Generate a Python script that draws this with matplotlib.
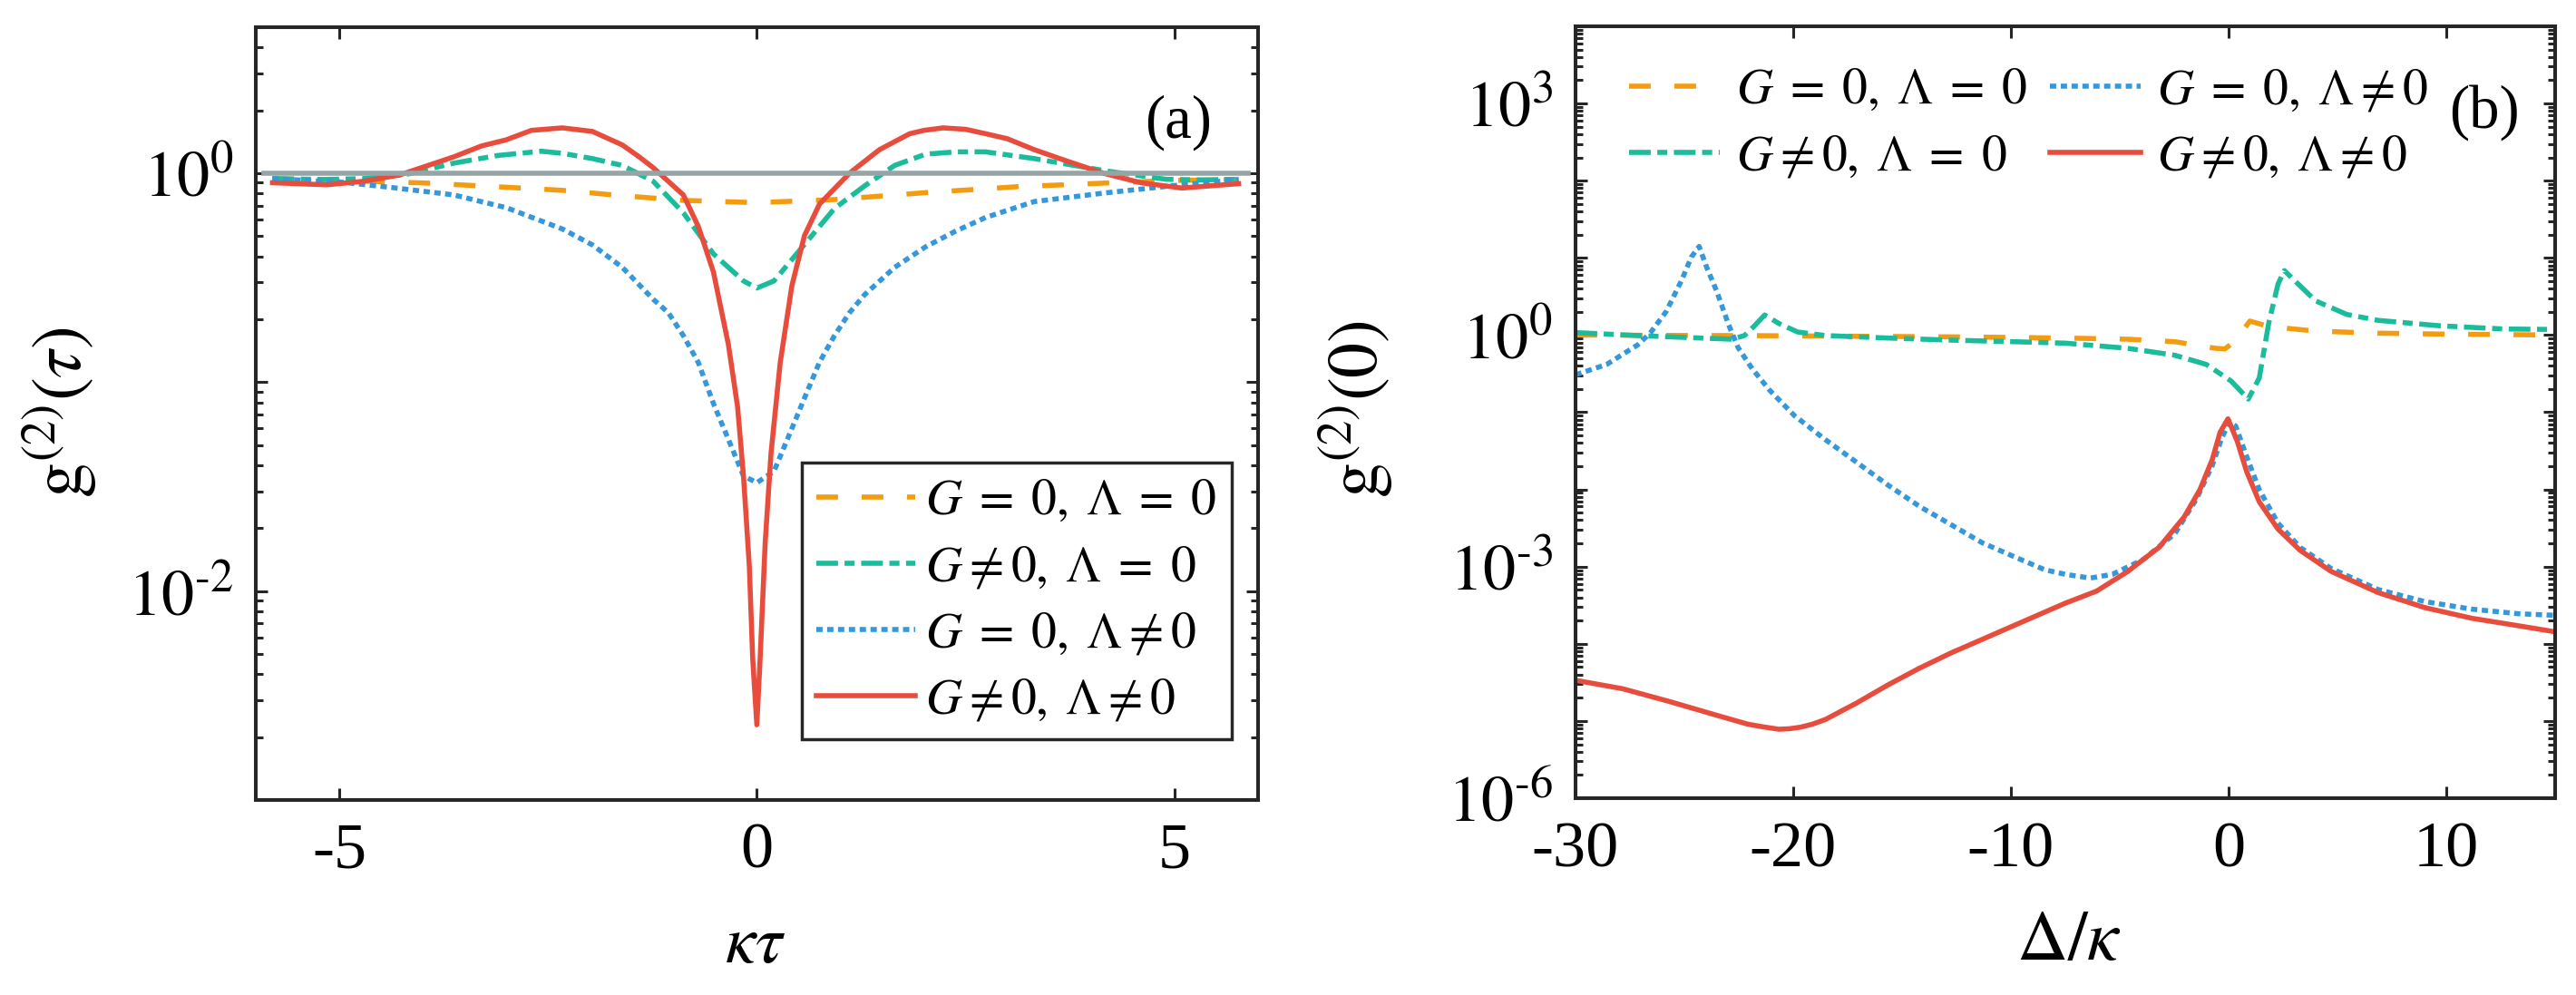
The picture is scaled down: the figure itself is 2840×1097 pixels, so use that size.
import matplotlib.pyplot as plt
import numpy as np
from matplotlib.ticker import FixedLocator, FixedFormatter, LogLocator, NullFormatter

plt.rcParams['font.family'] = ['Liberation Serif', 'DejaVu Serif']
plt.rcParams['mathtext.fontset'] = 'stix'
plt.rcParams['axes.unicode_minus'] = False

# ---- panel (a): g2(tau) vs kappa*tau ----
tau_orange = [-5.8, -5.0, -3.99, -3.1, -2.33, -1.61, -0.88, 0.0, 0.93, 2.02, 3.1, 4.2, 5.0, 5.77]
g2a_orange = [0.942, 0.923, 0.898, 0.861, 0.828, 0.780, 0.741, 0.723, 0.748, 0.807, 0.861, 0.898, 0.923, 0.935]

tau_teal = [-5.8, -5.2, -4.72, -4.18, -3.63, -3.1, -2.58, -2.33, -1.97, -1.61, -1.24, -0.88, -0.52,
            -0.16, 0.0, 0.205, 0.567, 0.93, 1.29, 1.65, 2.02, 2.38, 2.74, 3.32, 3.9, 4.2, 4.9, 5.3, 5.77]
g2a_teal = [0.942, 0.933, 0.942, 0.991, 1.117, 1.216, 1.274, 1.245, 1.175, 1.089, 0.914, 0.646, 0.411,
            0.305, 0.282, 0.305, 0.454, 0.678, 0.869, 1.089, 1.233, 1.265, 1.265, 1.175, 1.072, 1.023,
            0.935, 0.929, 0.935]

tau_blue = [-5.8, -4.97, -4.36, -3.63, -3.0, -2.33, -1.97, -1.61, -1.24, -1.06, -0.88, -0.70, -0.52,
            -0.34, -0.16, 0.0, 0.205, 0.386, 0.567, 0.748, 0.93, 1.11, 1.29, 1.65, 2.02, 2.38, 2.74,
            3.32, 4.15, 5.07, 5.77]
g2a_blue = [0.942, 0.906, 0.853, 0.787, 0.684, 0.541, 0.454, 0.354, 0.249, 0.215, 0.167, 0.124, 0.0791,
            0.0531, 0.0356, 0.0330, 0.0374, 0.0557, 0.0832, 0.124, 0.167, 0.215, 0.262, 0.354, 0.444,
            0.528, 0.614, 0.731, 0.803, 0.879, 0.931]

tau_red = [-5.8, -5.15, -4.72, -4.28, -3.63, -3.3, -3.0, -2.7, -2.33, -1.97, -1.61, -1.4, -1.24, -0.88,
           -0.70, -0.52, -0.34, -0.23, -0.16, -0.09, -0.05, 0.0, 0.04, 0.10, 0.17, 0.28, 0.42, 0.57,
           0.75, 1.11, 1.3, 1.47, 1.83, 2.0, 2.23, 2.5, 2.74, 3.0, 3.32, 3.7, 4.15, 4.6, 5.09, 5.77]
g2a_red = [0.90, 0.88, 0.914, 0.98, 1.197, 1.349, 1.445, 1.603, 1.648, 1.585, 1.365, 1.19, 1.062, 0.787,
           0.555, 0.337, 0.151, 0.0759, 0.0356, 0.0132, 0.00479, 0.00229, 0.00479, 0.0170, 0.0457,
           0.124, 0.290, 0.502, 0.711, 1.0, 1.148, 1.297, 1.545, 1.603, 1.648, 1.622, 1.545, 1.462,
           1.297, 1.148, 1.0, 0.90, 0.849, 0.891]

# ---- panel (b): g2(0) vs Delta/kappa ----
det_orange = [-30, -20, -12, -7.5, -4.63, -2.47, -0.6, -0.17, 0.26, 0.98, 1.84, 4.0, 6.87, 9.74, 15]
g2b_orange = [1.0, 0.977, 0.944, 0.914, 0.883, 0.820, 0.673, 0.661, 0.820, 1.517, 1.288, 1.125,
              1.057, 1.030, 1.0]

det_teal = [-30, -27.13, -24.25, -22.82, -22.24, -21.81, -21.31, -20.66, -19.8, -18.51, -15.63, -12.76,
            -9.89, -7.5, -4.63, -2.47, -1.03, 0.115, 0.905, 1.41, 1.84, 2.27, 2.56, 2.99, 4.0, 5.43,
            6.87, 9.74, 12.62, 15]
g2b_teal = [1.076, 0.984, 0.914, 0.883, 0.984, 1.288, 1.820, 1.413, 1.096, 0.984, 0.914, 0.859,
            0.820, 0.785, 0.673, 0.547, 0.417, 0.254, 0.148, 0.278, 1.409, 4.56, 6.84, 5.22, 2.77,
            1.849, 1.549, 1.315, 1.199, 1.180]

det_blue = [-30, -28.56, -27.13, -26.55, -25.83, -25.11, -24.68, -24.32, -23.97, -23.53, -22.96, -22.53,
            -21.88, -21.09, -19.94, -18.51, -17.07, -15.63, -14.2, -12.76, -11.32, -9.89, -8.45, -7.5,
            -6.35, -5.34, -3.91, -2.47, -1.47, -0.75, -0.32, 0.04, 0.33, 0.83, 1.41, 2.27, 3.28, 4.71,
            6.87, 9.02, 11.18, 13.33, 15]
g2b_blue = [0.305, 0.417, 0.750, 1.076, 2.023, 5.22, 10.23, 14.06, 7.48, 3.80, 1.349, 0.687,
            0.365, 0.194, 0.0902, 0.0439, 0.0223, 0.0113, 0.00603, 0.00351, 0.00204, 0.00136, 0.000912,
            0.000794, 0.000711, 0.000794, 0.00124, 0.00267, 0.00755, 0.0204, 0.0457, 0.0753, 0.0661,
            0.0267, 0.00989, 0.00366, 0.00178, 0.000946, 0.000505, 0.000352, 0.000281, 0.000245, 0.000234]

det_red = [-30, -27.84, -25.69, -23.53, -22.1, -21.4, -20.66, -20.16, -19.66, -19.1, -18.51, -17.07,
           -15.63, -14.2, -12.76, -11.32, -9.89, -8.45, -7.5, -6.06, -4.63, -3.19, -2.04, -1.32, -0.75,
           -0.39, -0.03, 0.40, 0.83, 1.41, 2.27, 3.28, 4.71, 6.87, 9.02, 11.18, 13.33, 15]
g2b_red = [3.37e-5, 2.62e-5, 1.79e-5, 1.19e-5, 9.12e-6, 8.41e-6, 7.82e-6, 7.94e-6, 8.32e-6, 9.12e-6,
           1.05e-5, 1.72e-5, 2.95e-5, 4.83e-5, 7.59e-5, 1.14e-4, 1.71e-4, 2.57e-4, 3.36e-4, 4.82e-4,
           8.67e-4, 1.78e-3, 4.40e-3, 9.89e-3, 0.0244, 0.0550, 0.0822, 0.0419, 0.0170, 0.00690,
           0.00306, 0.00163, 0.000867, 0.000461, 0.000294, 0.000214, 0.000171, 0.000143]

labels = [r'$G\;=\;0,\;\Lambda\;=\;0$', r'$G{\neq}0,\;\Lambda\;=\;0$',
          r'$G\;=\;0,\;\Lambda{\neq}0$', r'$G{\neq}0,\;\Lambda{\neq}0$']
colors = ['#F39C12', '#1ABC9C', '#3498DB', '#E74C3C']
styles = [(0, (4.3, 4.7)), (0, (4.3, 1.3, 2.0, 1.3)), (0, (1.25, 0.9)), '-']
gray = '#95A5A6'
dark = '#262626'
lw = 4.0

fig = plt.figure(figsize=(28.4, 10.97), dpi=100)
ax1 = fig.add_axes([0.0993, 0.196, 0.389, 0.7767])
ax2 = fig.add_axes([0.6116, 0.1978, 0.3803, 0.7758])

curves_a = [(tau_orange, g2a_orange), (tau_teal, g2a_teal), (tau_blue, g2a_blue), (tau_red, g2a_red)]
for (x, y), c, ls, lab in zip(curves_a, colors, styles, labels):
    ax1.plot(x, y, color=c, ls=ls, lw=lw, label=lab)
ax1.axhline(1.0, xmin=0.008, xmax=0.99, color=gray, lw=lw)

curves_b = [(det_orange, g2b_orange), (det_teal, g2b_teal), (det_blue, g2b_blue), (det_red, g2b_red)]
for (x, y), c, ls, lab in zip(curves_b, colors, styles, labels):
    ax2.plot(x, y, color=c, ls=ls, lw=lw, label=lab)

for ax in (ax1, ax2):
    ax.set_yscale('log')
    for s in ax.spines.values():
        s.set_linewidth(2.9)
        s.set_color(dark)
    ax.tick_params(which='both', direction='in', top=True, right=True, width=2.2, color=dark,
                   labelsize=52, pad=18)
    ax.tick_params(which='major', length=9.5)
    ax.tick_params(which='minor', length=5.5)
    ax.yaxis.set_minor_locator(LogLocator(base=10, subs=np.arange(2, 10), numticks=50))
    ax.yaxis.set_minor_formatter(NullFormatter())

# panel (a) axes
ax1.set_xlim(-6, 6)
ax1.set_ylim(1e-3, 5)
ax1.set_xticks([-5, 0, 5])
ax1.yaxis.set_major_locator(FixedLocator([1e-3, 1e-2, 1e-1, 1e0]))
ax1.yaxis.set_major_formatter(FixedFormatter(['', r'$10^{\text{-}2}$', '', r'$10^{0}$']))
ax1.set_xlabel(r'$\kappa\tau$', fontsize=54)
ax1.set_ylabel(r'$\mathrm{g}^{(2)}(\tau)$', fontsize=56)
ax1.xaxis.set_label_coords(0.498, -0.15)
ax1.yaxis.set_label_coords(-0.157, 0.502)
ax1.text(0.954, 0.877, '(a)', transform=ax1.transAxes, fontsize=48, ha='right', va='center')
leg1 = ax1.legend(loc='lower right', bbox_to_anchor=(0.974, 0.0786), borderaxespad=0, fontsize=40,
                  handlelength=1.96, handletextpad=0.2, labelspacing=0.38, borderpad=0.3,
                  fancybox=False, edgecolor=dark, framealpha=1)
leg1.get_frame().set_linewidth(2.5)

# panel (b) axes
ax2.set_xlim(-30, 15)
ax2.set_ylim(1e-6, 1e4)
ax2.set_xticks([-30, -20, -10, 0, 10])
decades = [10.0 ** k for k in range(-6, 5)]
dec_labels = ['' for _ in decades]
dec_labels[0] = r'$10^{\text{-}6}$'
dec_labels[3] = r'$10^{\text{-}3}$'
dec_labels[6] = r'$10^{0}$'
dec_labels[9] = r'$10^{3}$'
ax2.yaxis.set_major_locator(FixedLocator(decades))
ax2.yaxis.set_major_formatter(FixedFormatter(dec_labels))
ax2.set_xlabel(r'$\Delta/\kappa$', fontsize=56)
ax2.set_ylabel(r'$\mathrm{g}^{(2)}(0)$', fontsize=56)
ax2.xaxis.set_label_coords(0.504, -0.145)
ax2.yaxis.set_label_coords(-0.184, 0.504)
ax2.text(0.964, 0.888, '(b)', transform=ax2.transAxes, fontsize=48, ha='right', va='center')
ax2.legend(loc='upper left', bbox_to_anchor=(0.055, 0.947), ncol=2, frameon=False, fontsize=40,
           columnspacing=0.45, handlelength=1.8, handletextpad=0.32, labelspacing=0.38,
           borderpad=0, borderaxespad=0)

fig.savefig('out.png', dpi=100)
